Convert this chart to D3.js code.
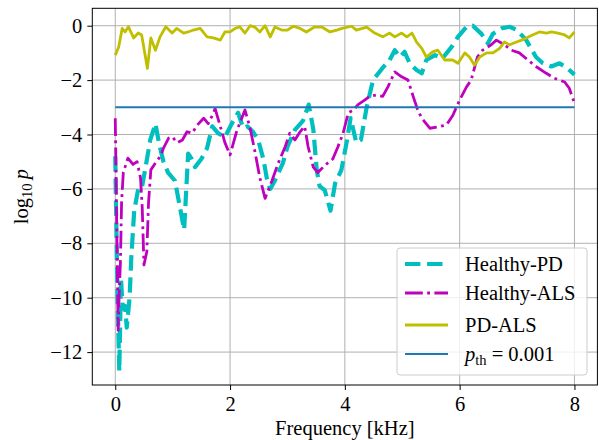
<!DOCTYPE html>
<html>
<head>
<meta charset="utf-8">
<script src="https://cdn.jsdelivr.net/npm/d3@7"></script>
<style>
    body { margin: 0; background: #fff; }
</style>
</head>
<body>
<svg id="chart" width="599" height="440" style="display:block"></svg>
<script>
// [frequency kHz, log10 p]
var healthyPD = [
    [0, -4.8], [0.02, -7.5], [0.04, -10.0], [0.07, -12.7], [0.10, -9.3], [0.13, -10.4],
    [0.17, -10.3], [0.20, -11.1], [0.25, -10.0], [0.28, -8.5], [0.33, -6.8], [0.40, -6.0],
    [0.46, -6.0], [0.52, -5.3], [0.61, -4.2], [0.70, -3.6], [0.76, -4.3],
    [0.84, -5.0], [0.92, -5.4], [1.04, -5.7], [1.12, -6.6], [1.20, -7.5], [1.27, -4.7],
    [1.33, -4.9], [1.39, -5.2], [1.50, -4.9], [1.60, -4.5], [1.69, -3.7], [1.79, -3.95],
    [1.91, -4.1], [2.03, -3.6], [2.14, -3.2], [2.23, -3.77], [2.30, -3.7], [2.40, -3.9],
    [2.49, -4.2], [2.58, -4.9], [2.64, -5.6], [2.70, -6.0], [2.78, -5.7], [2.92, -5.05],
    [3.00, -4.45], [3.13, -3.83], [3.27, -3.5], [3.37, -2.9], [3.45, -3.8], [3.51, -5.3],
    [3.56, -5.9], [3.65, -6.05], [3.75, -6.8], [3.83, -5.8], [3.94, -5.3], [4.03, -4.3],
    [4.10, -3.4], [4.20, -4.3], [4.28, -4.2], [4.38, -3.0], [4.49, -2.0], [4.64, -1.6],
    [4.78, -1.26], [4.87, -0.9], [4.96, -1.15], [5.04, -0.96], [5.13, -1.38], [5.25, -1.63],
    [5.34, -1.75], [5.42, -1.26], [5.57, -1.08], [5.70, -1.2], [5.86, -0.78], [5.97, -0.41],
    [6.12, -0.04], [6.23, 0], [6.38, -0.3], [6.49, -0.65], [6.58, -0.3], [6.73, -0.1],
    [6.87, -0.04], [7.00, -0.16], [7.16, -0.53], [7.33, -1.15], [7.45, -1.38], [7.60, -1.5],
    [7.74, -1.38], [7.88, -1.57], [8.00, -1.8]
];
var healthyALS = [
    [0, -3.4], [0.02, -6.5], [0.04, -9.5], [0.05, -11.2], [0.07, -9.7], [0.09, -8.7],
    [0.11, -6.5], [0.14, -5.4], [0.22, -4.87], [0.31, -5.1], [0.38, -5.0], [0.44, -5.6],
    [0.47, -6.7], [0.50, -8.8], [0.55, -8.3], [0.58, -6.5], [0.62, -5.3], [0.73, -4.95],
    [0.79, -4.8], [0.84, -4.5], [0.93, -4.13], [0.99, -4.08], [1.08, -4.3], [1.17, -4.2],
    [1.25, -3.9], [1.34, -3.95], [1.43, -3.65], [1.54, -3.4], [1.62, -3.6], [1.69, -3.3],
    [1.74, -3.05], [1.83, -3.7], [1.91, -4.3], [2.00, -4.75], [2.12, -3.85], [2.26, -3.1],
    [2.35, -3.77], [2.44, -4.7], [2.52, -5.6], [2.61, -6.35], [2.73, -5.7], [2.84, -5.05],
    [2.96, -4.45], [3.04, -3.95], [3.13, -4.2], [3.22, -3.9], [3.30, -3.7], [3.36, -4.45],
    [3.45, -5.2], [3.53, -5.4], [3.62, -5.2], [3.70, -5.05], [3.79, -4.9], [3.88, -4.45],
    [3.97, -3.95], [4.06, -3.2], [4.15, -3.1], [4.23, -2.9], [4.35, -2.73], [4.43, -2.6],
    [4.55, -2.55], [4.66, -2.6], [4.75, -2.25], [4.87, -1.7], [4.99, -1.88], [5.10, -2.0],
    [5.19, -2.6], [5.27, -3.1], [5.34, -3.4], [5.48, -3.77], [5.62, -3.72], [5.77, -3.65],
    [5.88, -3.3], [6.00, -2.73], [6.12, -2.25], [6.20, -2.0], [6.31, -1.15], [6.40, -0.9],
    [6.55, -0.7], [6.64, -0.53], [6.78, -0.7], [6.90, -0.9], [7.04, -1.0], [7.19, -1.26],
    [7.33, -1.5], [7.51, -1.75], [7.65, -1.93], [7.83, -2.07], [7.91, -2.3], [8.00, -2.85]
];
var pdALS = [
    [0, -1.08], [0.06, -0.78], [0.12, -0.1], [0.17, -0.23], [0.23, -0.04], [0.32, -0.45],
    [0.40, -0.27], [0.46, -0.34], [0.56, -1.57], [0.62, -0.45], [0.70, -0.9], [0.78, -0.41],
    [0.88, -0.04], [0.99, -0.27], [1.07, -0.1], [1.19, -0.27], [1.27, -0.23], [1.36, -0.16],
    [1.48, -0.1], [1.60, -0.41], [1.71, -0.45], [1.83, -0.53], [1.91, -0.23], [2.00, -0.23],
    [2.09, -0.1], [2.17, -0.04], [2.26, -0.27], [2.35, 0], [2.43, -0.05], [2.52, -0.23],
    [2.61, 0], [2.70, -0.41], [2.78, -0.05], [2.90, -0.16], [3.00, -0.16], [3.10, -0.02],
    [3.22, -0.1], [3.33, -0.23], [3.47, -0.05], [3.60, -0.05], [3.74, -0.23], [3.86, -0.16],
    [3.95, -0.1], [4.12, -0.02], [4.20, -0.16], [4.38, -0.05], [4.52, -0.27], [4.66, -0.41],
    [4.78, -0.27], [4.87, -0.41], [4.99, -0.27], [5.08, -0.41], [5.17, -0.27], [5.25, -0.6],
    [5.34, -0.83], [5.42, -1.15], [5.53, -0.96], [5.62, -0.9], [5.74, -1.26], [5.88, -1.26],
    [5.97, -1.38], [6.09, -1.0], [6.17, -1.15], [6.26, -1.45], [6.35, -1.15], [6.47, -1.0],
    [6.58, -1.0], [6.70, -0.83], [6.78, -0.6], [6.87, -0.7], [6.99, -0.6], [7.08, -0.53],
    [7.16, -0.45], [7.27, -0.34], [7.39, -0.23], [7.51, -0.27], [7.60, -0.23], [7.71, -0.27],
    [7.83, -0.34], [7.91, -0.45], [8.00, -0.23]
];
var pThreshold = 0.001;
var thresholdLine = [[0, Math.log10(pThreshold)], [8, Math.log10(pThreshold)]];

var xTicks = [0, 2, 4, 6, 8];
var yTicks = [-12, -10, -8, -6, -4, -2, 0];
var seriesNames = ["Healthy-PD", "Healthy-ALS", "PD-ALS"];

var FONT = "Liberation Serif";
var FONT_SIZE = 20.5;

var margin = {top: 8.3, right: 1.6, bottom: 55, left: 92.3},
    svgW = 599, svgH = 440,
    width = svgW - margin.left - margin.right,
    height = svgH - margin.top - margin.bottom;

var svg = d3.select("#chart")
    .attr("font-family", FONT)
    .attr("font-size", FONT_SIZE);
var g = svg.append("g").attr("transform", "translate(" + margin.left + "," + margin.top + ")");

var x = d3.scaleLinear().domain([-0.4, 8.4]).range([0, width]);
var y = d3.scaleLinear().domain([-13.21, 0.64]).range([height, 0]);

g.append("clipPath").attr("id", "plotClip")
    .append("rect").attr("width", width).attr("height", height);

// grid
g.append("g").selectAll("line").data(xTicks).enter().append("line")
    .attr("x1", function (d) { return x(d); }).attr("x2", function (d) { return x(d); })
    .attr("y1", 0).attr("y2", height)
    .attr("stroke", "#b0b0b0").attr("stroke-width", 1);
g.append("g").selectAll("line").data(yTicks).enter().append("line")
    .attr("y1", function (d) { return y(d); }).attr("y2", function (d) { return y(d); })
    .attr("x1", 0).attr("x2", width)
    .attr("stroke", "#b0b0b0").attr("stroke-width", 1);

var line = d3.line()
    .x(function (d) { return x(d[0]); })
    .y(function (d) { return y(d[1]); });

var styles = [
    {data: healthyPD, color: "#00bfbf", width: 4.2, dash: "15.4,6.7"},
    {data: healthyALS, color: "#bf00bf", width: 2.8, dash: "17.8,4.4,2.8,4.4"},
    {data: pdALS, color: "#bfbf00", width: 2.8, dash: null}
];

var plot = g.append("g").attr("clip-path", "url(#plotClip)");
styles.forEach(function (s) {
    plot.append("path")
        .datum(s.data)
        .attr("d", line)
        .attr("fill", "none")
        .attr("stroke", s.color)
        .attr("stroke-width", s.width)
        .attr("stroke-dasharray", s.dash)
        .attr("stroke-linejoin", "round");
});
plot.append("path")
    .datum(thresholdLine)
    .attr("d", line)
    .attr("fill", "none")
    .attr("stroke", "#1f77b4")
    .attr("stroke-width", 2.1);

// axes
var fmt = function (d) { return d < 0 ? "\u2212" + Math.abs(d) : "" + d; };
var xAxis = g.append("g")
    .attr("transform", "translate(0," + height + ")")
    .call(d3.axisBottom(x).tickValues(xTicks).tickFormat(fmt).tickSize(5).tickPadding(6));
var yAxis = g.append("g")
    .call(d3.axisLeft(y).tickValues(yTicks).tickFormat(fmt).tickSize(5).tickPadding(5));
[xAxis, yAxis].forEach(function (a) {
    a.attr("font-family", FONT).attr("font-size", FONT_SIZE);
    a.select(".domain").remove();
    a.selectAll(".tick line").attr("stroke", "#000").attr("stroke-width", 1);
    a.selectAll(".tick text").attr("fill", "#000");
});
xAxis.selectAll(".tick text").attr("dy", "0.71em");

g.append("rect")
    .attr("width", width).attr("height", height)
    .attr("fill", "none").attr("stroke", "#000").attr("stroke-width", 1);

// axis labels
svg.append("text")
    .attr("x", margin.left + width / 2).attr("y", 435)
    .attr("text-anchor", "middle")
    .attr("font-family", FONT).attr("font-size", FONT_SIZE)
    .text("Frequency [kHz]");

var yl = svg.append("text")
    .attr("transform", "translate(28," + (margin.top + height / 2) + ") rotate(-90)")
    .attr("text-anchor", "middle")
    .attr("font-family", FONT).attr("font-size", FONT_SIZE);
yl.append("tspan").text("log");
yl.append("tspan").attr("font-size", 14.5).attr("dy", 4).text("10");
yl.append("tspan").attr("dy", -4).text("\u2009");
yl.append("tspan").attr("font-style", "italic").text("p");

// legend
var legend = svg.append("g").attr("transform", "translate(397,248)");
legend.append("rect")
    .attr("width", 190).attr("height", 127).attr("rx", 3)
    .attr("fill", "#fff").attr("fill-opacity", 0.8)
    .attr("stroke", "#cccccc").attr("stroke-width", 1);

var rowY = [16, 45, 77, 106];
var legendItems = styles.map(function (s, i) {
    return {name: seriesNames[i], color: s.color, width: s.width, dash: s.dash};
});
legendItems.push({name: null, color: "#1f77b4", width: 2.1, dash: null});

var rows = legend.selectAll("g.row").data(legendItems).enter().append("g")
    .attr("class", "row")
    .attr("transform", function (d, i) { return "translate(0," + rowY[i] + ")"; });
rows.append("line")
    .attr("x1", 8).attr("x2", 51)
    .attr("stroke", function (d) { return d.color; })
    .attr("stroke-width", function (d) { return d.width; })
    .attr("stroke-dasharray", function (d) { return d.dash; });
rows.each(function (d) {
    var t = d3.select(this).append("text")
        .attr("x", 68).attr("y", 7)
        .attr("font-family", FONT).attr("font-size", FONT_SIZE);
    if (d.name) {
        t.text(d.name);
    } else {
        t.append("tspan").attr("font-style", "italic").text("p");
        t.append("tspan").attr("font-size", 14.5).attr("dy", 4).text("th");
        t.append("tspan").attr("dy", -4).text(" = " + pThreshold);
    }
});
</script>
</body>
</html>
